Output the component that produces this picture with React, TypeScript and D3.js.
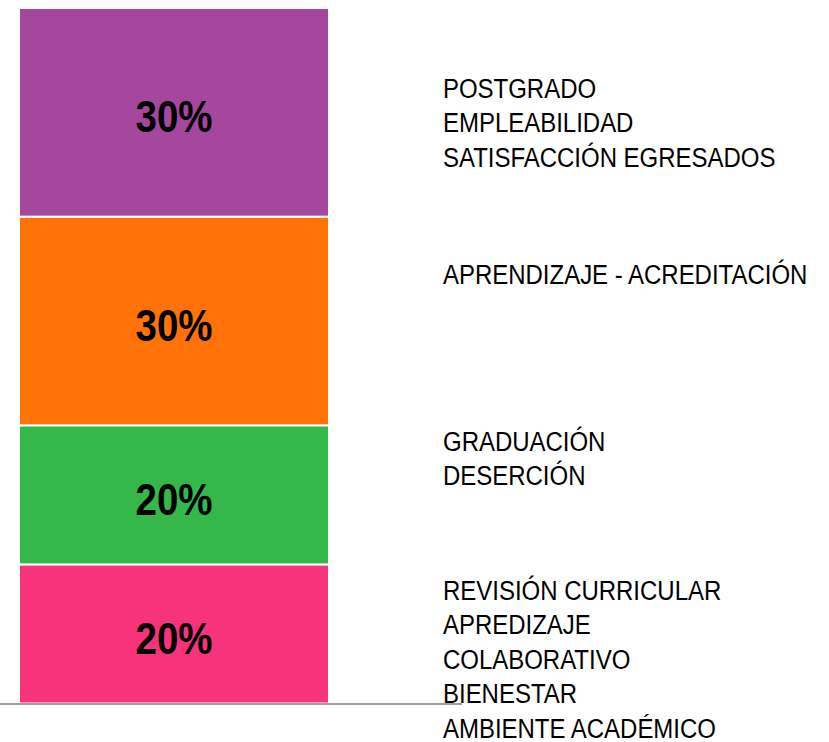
import React from "react";
import * as d3 from "d3";

const categories = ["REVISIÓN", "GRADUACIÓN", "APRENDIZAJE", "POSTGRADO"];
const values = [20, 20, 30, 30];
const percentLabels = ["20%", "20%", "30%", "30%"];
const colors = ["#F7337B", "#34B84A", "#FF7207", "#A5479D"];
const descriptions: string[][] = [
  ["REVISIÓN CURRICULAR", "APREDIZAJE", "COLABORATIVO", "BIENESTAR", "AMBIENTE ACADÉMICO"],
  ["GRADUACIÓN", "DESERCIÓN"],
  ["APRENDIZAJE - ACREDITACIÓN"],
  ["POSTGRADO", "EMPLEABILIDAD", "SATISFACCIÓN EGRESADOS"],
];
// first text line offset below each segment top (px)
const textOffsets = [26, 16, 58, 80];

const W = 829;
const H = 742;
const FONT = "'Liberation Sans', Arial, sans-serif";

export default function App() {
  const total = d3.sum(values);
  const y = d3.scaleLinear().domain([0, total]).range([703.5, 8]);
  const x = d3.scaleBand().domain(["bar"]).range([19, 329]).padding(0);
  const stackData = [Object.fromEntries(categories.map((c, i) => [c, values[i]]))];
  const series = d3.stack<any>().keys(categories)(stackData as any);
  const bx = x("bar")!;
  const bw = x.bandwidth();
  const lineH = 34.5;

  return (
    <svg width={W} height={H} style={{ position: "absolute", left: 0, top: 0 }}>
      <rect width={W} height={H} fill="#fff" />
      {series.map((s, i) => {
        const d = s[0];
        const y0 = y(d[1]);
        const y1 = y(d[0]);
        return (
          <g key={categories[i]}>
            <rect x={bx} y={y0} width={bw} height={y1 - y0} fill={colors[i]} stroke="#fff" strokeWidth={2} />
            <g transform={`translate(${bx + bw / 2},${(y0 + y1) / 2 + 5}) scale(0.875,1)`}>
              <text
                x={0}
                y={0}
                textAnchor="middle"
                dominantBaseline="central"
                fontFamily={FONT}
                fontWeight="bold"
                fontSize={44}
                fill="#000"
              >
                {percentLabels[i]}
              </text>
            </g>
          </g>
        );
      })}
      <line x1={0} x2={462} y1={704} y2={704} stroke="#A0A0A0" strokeWidth={2} />
      {series.map((s, i) => {
        const top = y(s[0][1]);
        return (
          <g key={"t" + i}>
            {descriptions[i].map((t, j) => (
              <g key={j} transform={`translate(443,${top + textOffsets[i] + j * lineH}) scale(0.888,1)`}>
                <text x={0} y={0} dominantBaseline="central" fontFamily={FONT} fontSize={27} fill="#000">
                  {t}
                </text>
              </g>
            ))}
          </g>
        );
      })}
    </svg>
  );
}
